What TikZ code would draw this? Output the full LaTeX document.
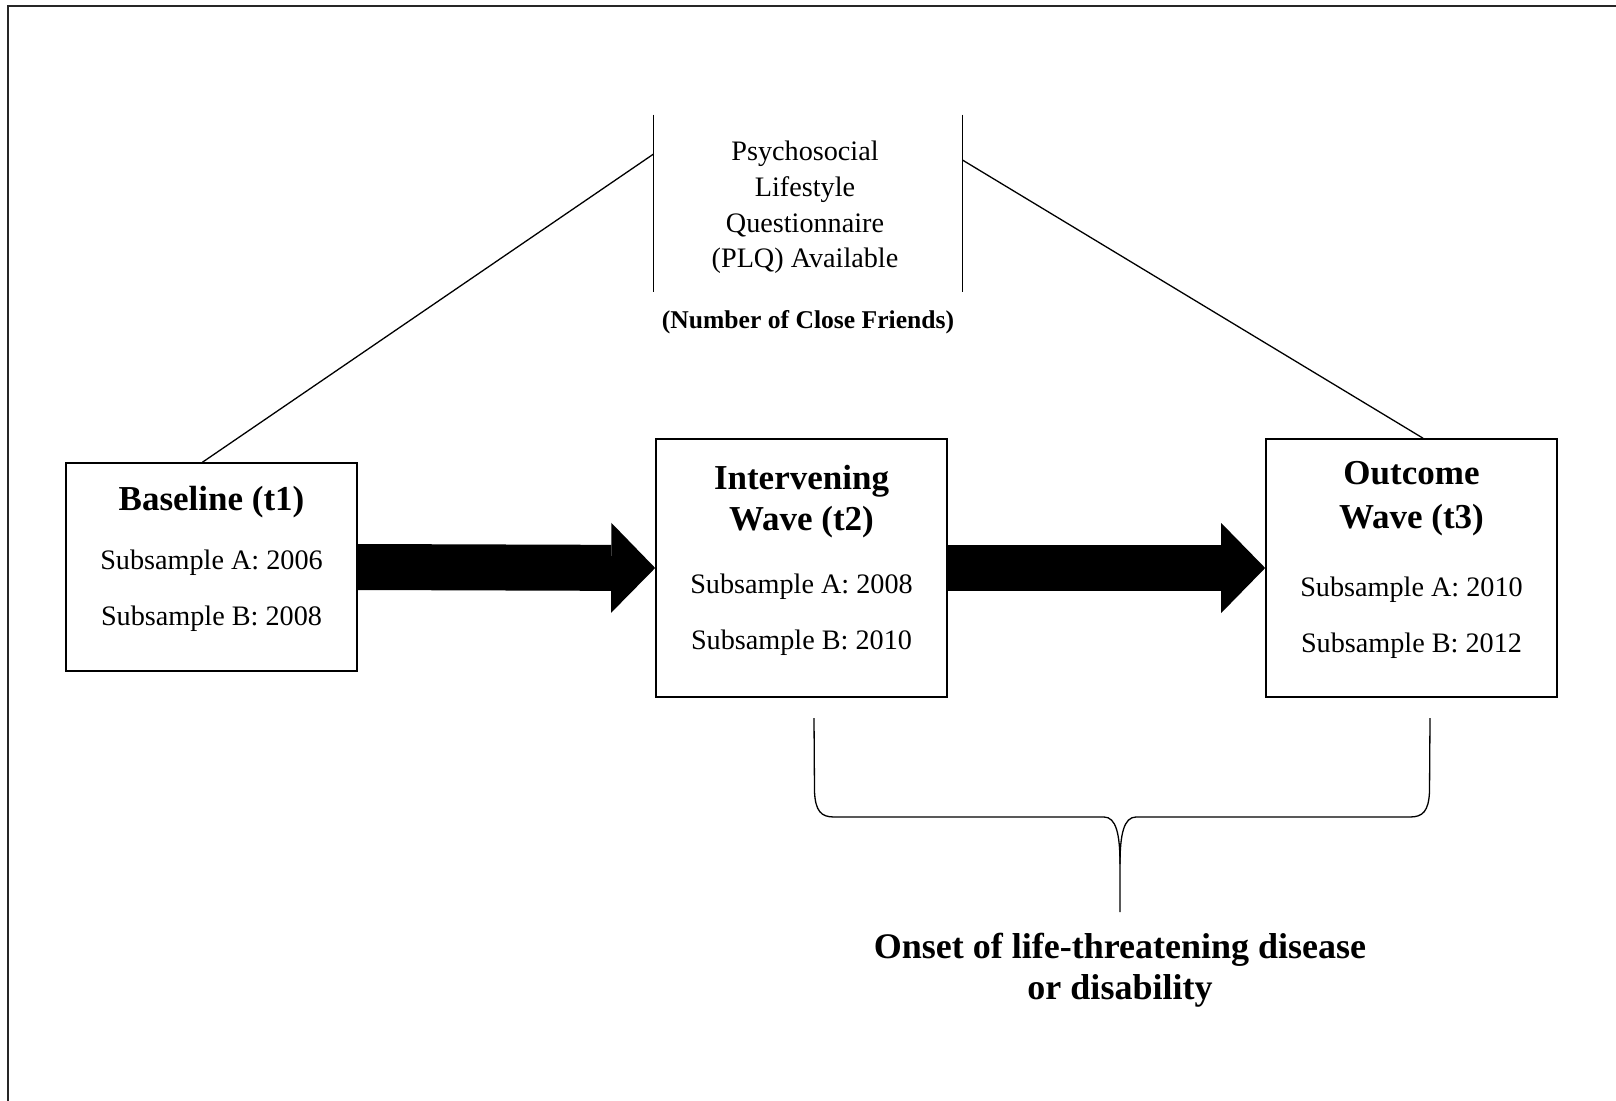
\documentclass[tikz,border=0pt]{standalone}
\usepackage{fontspec}
\setmainfont{Liberation Serif}
\usetikzlibrary{arrows.meta,calc}

\tikzset{
  wavebox/.style={draw, line width=0.8pt, minimum width=145.5pt, inner sep=0pt},
  wavetitle/.style={anchor=base, inner sep=0pt, font=\fontsize{17.5}{21}\selectfont\bfseries},
  wavetext/.style={anchor=base, inner sep=0pt, font=\fontsize{14.1}{17}\selectfont},
  thinline/.style={line width=0.65pt},
  bigarrow/.style={line width=23pt, -{Triangle[length=22pt,width=45pt,line width=0pt]}},
}

\begin{document}
\begin{tikzpicture}[x=0.5pt,y=0.5pt,yscale=-1]
\useasboundingbox (0,0) rectangle (1616,1101);

%Frame (only top and left edges show)
\draw[line width=1pt, black!85] (8,1101) -- (8,6) -- (1616,6);

%Shape: Rectangle [wave boxes]
\node[wavebox, minimum height=104pt] (t1box) at (211.5,567) {};
\node[wavebox, minimum height=129pt] (t2box) at (801.5,568) {};
\node[wavebox, minimum height=129pt] (t3box) at (1411.5,568) {};

% Text Node
\node[wavetitle] (t1title) at (211.5,510) {Baseline (t1)};
\node[wavetext] (t1a) at (211.5,569) {Subsample A: 2006};
\node[wavetext] (t1b) at (211.5,625) {Subsample B: 2008};
% Text Node
\node[wavetitle] (t2title) at (801.5,489) {Intervening};
\node[wavetitle] (t2wave) at (801.5,530) {Wave (t2)};
\node[wavetext] (t2a) at (801.5,593) {Subsample A: 2008};
\node[wavetext] (t2b) at (801.5,649) {Subsample B: 2010};
% Text Node
\node[wavetitle] (t3title) at (1411.5,484) {Outcome};
\node[wavetitle] (t3wave) at (1411.5,528) {Wave (t3)};
\node[wavetext] (t3a) at (1411.5,596) {Subsample A: 2010};
\node[wavetext] (t3b) at (1411.5,652) {Subsample B: 2012};

%Block arrows
\draw[bigarrow] (t1box.east) -- (t2box.west);
\draw[bigarrow] (t2box.east) -- (t3box.west);

%PLQ bracket
\node[minimum width=154pt, minimum height=88.5pt, inner sep=0pt] (plq) at (808,203.5) {};
\draw[thinline] (plq.north west) -- (plq.south west);
\draw[thinline] (plq.north east) -- (plq.south east);
% Text Node
\node[inner sep=0pt, align=center, font=\fontsize{14.1}{17.85}\selectfont] (plqtext) at (805,207.5)
  {Psychosocial\\Lifestyle\\Questionnaire\\(PLQ) Available};
\node[anchor=base, inner sep=0pt, font=\fontsize{12.8}{15}\selectfont\bfseries] (friends) at (808,329)
  {(Number of Close Friends)};

%Straight Lines [to the bracket]
\draw[thinline] ($(t1box.north)+(-9,0)$) -- ($(plq.west)+(0,-49.5)$);
\draw[thinline] ($(plq.east)+(0,-43.5)$) -- ($(t3box.north)+(11.5,0)$);

%Brace under t2 and t3
\coordinate (tip) at (1120,912);
\draw[thinline] (814,718) -- (814.5,792) .. controls (815.5,811) and (821,817) .. (834,817)
  -- (1104,817) .. controls (1116,817) and (1120,834) .. (1120,864) -- (tip);
\draw[thinline] (1430,718) -- (1429.5,792) .. controls (1428.5,811) and (1423,817) .. (1410,817)
  -- (1136,817) .. controls (1124,817) and (1120,834) .. (1120,864);

% Text Node
\node[anchor=north, inner sep=0pt, align=center, font=\fontsize{18}{20.5}\selectfont\bfseries] (onset)
  at ($(tip)+(0,20.6)$) {Onset of life-threatening disease\\or disability};

\end{tikzpicture}
\end{document}
